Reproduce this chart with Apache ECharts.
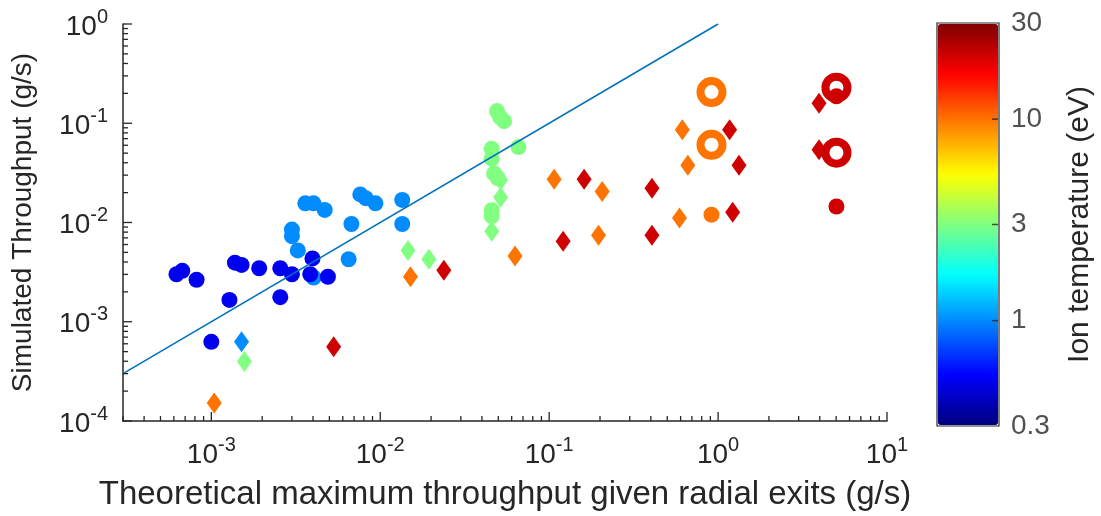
<!DOCTYPE html>
<html>
<head>
<meta charset="utf-8">
<script src="https://cdn.jsdelivr.net/npm/echarts@6/dist/echarts.min.js"></script>
<style>
  html, body { margin: 0; padding: 0; background: #fff; }
  #chart { width: 1101px; height: 516px; }
</style>
</head>
<body>
<div id="chart"></div>
<script>
// filled circles: x = theoretical max (g/s), y = simulated (g/s), t = ion temperature (eV)
const circleX = [3.60e-3, 4.03e-3, 4.69e-3, 7.62e-3, 8.20e-3, 9.37e-3, 1.35e-2, 1.35e-2, 6.75e-3, 3.00e-3, 3.00e-3, 3.25e-3, 6.50e-3, 4.03e-3,
  6.22e-4, 6.73e-4, 8.18e-4, 1.38e-3, 1.51e-3, 1.92e-3, 2.56e-3, 3.00e-3, 3.97e-3, 3.85e-3, 4.90e-3, 1.28e-3, 2.56e-3, 1.00e-3,
  4.91e-2, 5.12e-2, 5.41e-2, 4.57e-2, 4.57e-2, 6.58e-2, 4.72e-2, 4.98e-2, 4.57e-2, 4.57e-2,
  0.914,
  5.02, 5.02]
const circleY = [1.56e-2, 1.56e-2, 1.34e-2, 1.92e-2, 1.76e-2, 1.56e-2, 1.69e-2, 9.66e-3, 9.66e-3, 8.48e-3, 7.28e-3, 5.23e-3, 4.26e-3, 2.79e-3,
  3.01e-3, 3.26e-3, 2.65e-3, 3.94e-3, 3.74e-3, 3.46e-3, 3.46e-3, 3.01e-3, 4.35e-3, 3.01e-3, 2.84e-3, 1.66e-3, 1.77e-3, 6.28e-4,
  0.1325, 0.1154, 0.105, 5.53e-2, 4.40e-2, 5.75e-2, 3.12e-2, 2.78e-2, 1.33e-2, 1.16e-2,
  1.20e-2,
  1.45e-2, 0.187]
const circleT = [1, 1, 1, 1, 1, 1, 1, 1, 1, 1, 1, 1, 1, 1,
  0.5, 0.5, 0.5, 0.5, 0.5, 0.5, 0.5, 0.5, 0.5, 0.5, 0.5, 0.5, 0.5, 0.5,
  3, 3, 3, 3, 3, 3, 3, 3, 3, 3,
  10,
  21, 21]

// diamonds
const diamondX = [1.51e-3,
  5.16e-2, 5.16e-2, 4.57e-2, 1.46e-2, 1.94e-2, 1.57e-3,
  1.04e-3, 1.51e-2, 6.28e-2, 0.107, 0.206, 0.196, 0.614, 0.662, 0.591,
  5.30e-3, 2.38e-2, 0.121, 0.161, 0.406, 0.406, 1.17, 1.33, 1.22, 3.96, 3.96]
const diamondY = [6.28e-4,
  2.68e-2, 1.80e-2, 8.17e-3, 5.23e-3, 4.26e-3, 3.97e-4,
  1.52e-4, 2.84e-3, 4.60e-3, 2.72e-2, 2.05e-2, 7.45e-3, 8.62e-2, 3.77e-2, 1.11e-2,
  5.60e-4, 3.30e-3, 6.49e-3, 2.72e-2, 2.21e-2, 7.45e-3, 8.62e-2, 3.77e-2, 1.27e-2, 0.159, 5.41e-2]
const diamondT = [1,
  3, 3, 3, 3, 3, 3,
  10, 10, 10, 10, 10, 10, 10, 10, 10,
  21, 21, 21, 21, 21, 21, 21, 21, 21, 21, 21]

// open rings
const ringX = [0.914, 0.914, 5.02, 5.02]
const ringY = [0.206, 6.07e-2, 0.228, 5.05e-2]
const ringT = [10, 10, 21, 21]

// y = x reference line
const lineX = [3e-4, 1]
const lineY = [3e-4, 1]

// axes
const xMin = 3e-4, xMax = 10
const yMin = 1e-4, yMax = 1
const tMin = 0.3, tMax = 30
const cbLabels = [0.3, 1, 3, 10, 30]
const cbTicks = [1, 3, 10]

const FONT = 'Liberation Sans, Arial, Helvetica, sans-serif'
const INK = '#262626'

// jet colormap
const jet = t => {
  const c = v => Math.round(Math.max(0, Math.min(1, v)) * 255)
  return 'rgb(' + c(1.5 - Math.abs(4 * t - 3)) + ',' + c(1.5 - Math.abs(4 * t - 2)) + ',' + c(1.5 - Math.abs(4 * t - 1)) + ')'
}
const jetColors = []
for (let i = 0; i < 64; i++) jetColors.push(jet(i / 63))
const tNorm = t => (Math.log10(t) - Math.log10(tMin)) / (Math.log10(tMax) - Math.log10(tMin))

const pts = (xs, ys, ts) => xs.map((x, i) => [x, ys[i], Math.log10(ts[i])])

// inward tick marks (major at decades, minor at 2..9)
const tickData = []
for (let e = -4; e <= 1; e++) {
  for (let k = 1; k <= 9; k++) {
    const v = k * Math.pow(10, e)
    if (v >= xMin * 0.999 && v <= xMax * 1.001) tickData.push([v, yMin, 0, k === 1 ? 1 : 0])
    if (v >= yMin * 0.999 && v <= yMax * 1.001) tickData.push([xMin, v, 1, k === 1 ? 1 : 0])
  }
}

const powLabel = v => {
  const l = Math.log10(v)
  const e = Math.round(l)
  if (Math.abs(l - e) > 1e-6) return ''
  return '{b|10}{s|' + e + '}'
}
const powRich = {
  b: { fontSize: 28, fontFamily: FONT, color: INK, lineHeight: 34, verticalAlign: 'bottom' },
  s: { fontSize: 20, fontFamily: FONT, color: INK, verticalAlign: 'top' }
}

const chart = echarts.init(document.getElementById('chart'))
chart.setOption({
  animation: false,
  backgroundColor: '#fff',
  grid: [
    { left: 123, top: 24, width: 764, height: 401 },
    { left: 937, top: 23, width: 62, height: 403, show: true, borderColor: INK, borderWidth: 1.2, backgroundColor: 'transparent' }
  ],
  xAxis: [
    {
      type: 'log', logBase: 10, min: xMin, max: xMax, gridIndex: 0,
      axisLine: { lineStyle: { color: INK, width: 1.5 } },
      axisTick: { show: false },
      splitLine: { show: false },
      axisLabel: { formatter: powLabel, rich: powRich, margin: 14, showMinLabel: false },
      name: 'Theoretical maximum throughput given radial exits (g/s)',
      nameLocation: 'middle', nameGap: 57,
      nameTextStyle: { fontSize: 33, fontFamily: FONT, color: INK }
    },
    { type: 'value', min: 0, max: 1, gridIndex: 1, show: false }
  ],
  yAxis: [
    {
      type: 'log', logBase: 10, min: yMin, max: yMax, gridIndex: 0,
      axisLine: { lineStyle: { color: INK, width: 1.5 } },
      axisTick: { show: false },
      splitLine: { show: false },
      axisLabel: { formatter: powLabel, rich: powRich, margin: 15 },
      name: 'Simulated Throughput (g/s)',
      nameLocation: 'middle', nameGap: 86,
      nameTextStyle: { fontSize: 28, fontFamily: FONT, color: INK }
    },
    {
      type: 'log', logBase: 10, min: tMin, max: tMax, gridIndex: 1, position: 'right',
      axisLine: { show: false }, axisTick: { show: false }, axisLabel: { show: false }, splitLine: { show: false },
      name: 'Ion temperature (eV)', nameLocation: 'middle', nameRotate: 90, nameGap: 66,
      nameTextStyle: { fontSize: 30, fontFamily: FONT, color: INK }
    }
  ],
  visualMap: {
    type: 'continuous',
    seriesIndex: [1, 2],
    dimension: 2,
    min: Math.log10(tMin),
    max: Math.log10(tMax),
    inRange: { color: jetColors },
    orient: 'vertical',
    left: 938, top: 24,
    itemWidth: 60, itemHeight: 401,
    padding: 0,
    calculable: false,
    hoverLink: false
  },
  series: [
    {
      type: 'scatter', name: 'rings',
      data: ringX.map((x, i) => ({
        value: [x, ringY[i]],
        itemStyle: { color: 'rgba(255,255,255,0)', borderColor: jet(tNorm(ringT[i])), borderWidth: 8, opacity: 1 }
      })),
      symbol: 'circle', symbolSize: 22,
      itemStyle: { opacity: 1 }
    },
    {
      type: 'scatter', name: 'circles', data: pts(circleX, circleY, circleT),
      symbol: 'circle', symbolSize: 16,
      itemStyle: { opacity: 1 }
    },
    {
      type: 'scatter', name: 'diamonds', data: pts(diamondX, diamondY, diamondT),
      symbol: 'diamond', symbolSize: [15, 21],
      itemStyle: { opacity: 1 }
    },
    {
      type: 'line', name: 'unity', data: lineX.map((x, i) => [x, lineY[i]]),
      symbol: 'none', z: 5,
      lineStyle: { color: '#0072BD', width: 1.6 }
    },
    {
      type: 'custom', name: 'ticks', data: tickData, z: 6, silent: true,
      renderItem: (params, api) => {
        const p = api.coord([api.value(0), api.value(1)])
        const len = api.value(3) ? 9 : 5
        const shape = api.value(2) === 0
          ? { x1: p[0], y1: p[1], x2: p[0], y2: p[1] - len }
          : { x1: p[0], y1: p[1], x2: p[0] + len, y2: p[1] }
        return { type: 'line', shape: shape, style: { stroke: INK, lineWidth: 1.3 } }
      }
    },
    {
      type: 'scatter', name: 'cbTicks', xAxisIndex: 1, yAxisIndex: 1, z: 10, silent: true,
      data: cbTicks.map(v => [1, v]),
      symbol: 'rect', symbolSize: [6, 1.5], symbolOffset: [-4, 0],
      itemStyle: { color: INK }
    },
    {
      type: 'scatter', name: 'cbLabels', xAxisIndex: 1, yAxisIndex: 1, z: 10, silent: true,
      data: cbLabels.map(v => [1, v]),
      symbolSize: 0,
      label: {
        show: true, position: 'right', distance: 12,
        formatter: p => String(p.value[1]),
        fontSize: 28, fontFamily: FONT, color: INK
      }
    }
  ]
})
</script>
</body>
</html>
